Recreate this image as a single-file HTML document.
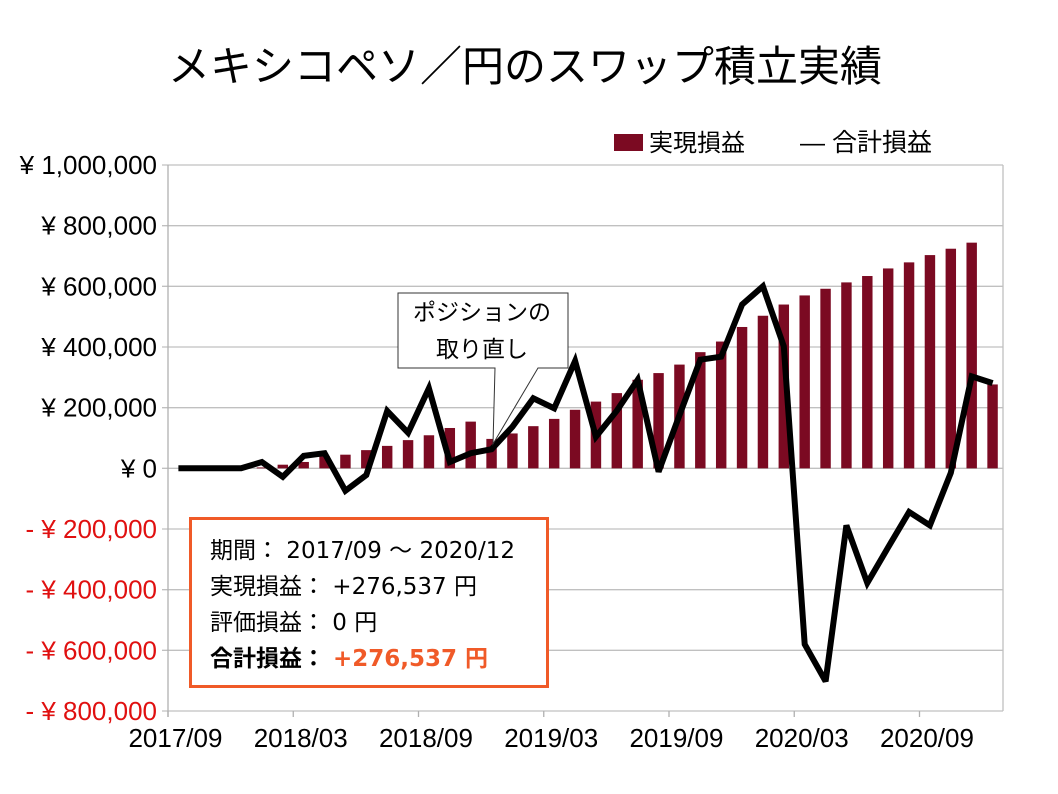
<!DOCTYPE html>
<html><head><meta charset="utf-8"><style>
html,body{margin:0;padding:0;background:#fff;}
svg{display:block;font-family:"Liberation Sans","Noto Sans CJK JP",sans-serif;}
.box{font-family:"DejaVu Sans","Noto Sans CJK JP",sans-serif;}
</style></head><body>
<svg id="chart" width="1058" height="794" viewBox="0 0 1058 794" xmlns="http://www.w3.org/2000/svg">
<text x="525" y="81" font-size="42" text-anchor="middle" fill="#000">メキシコペソ／円のスワップ積立実績</text>
<g>
  <rect x="614" y="134" width="29" height="17" fill="#7b0a22"/>
  <text x="649" y="151" font-size="24">実現損益</text>
  <text x="800" y="151" font-size="25">― 合計損益</text>
</g>
<g id="grid"></g>
<g id="bars"></g>
<g id="axes"></g>
<polyline id="line" fill="none" stroke="#000" stroke-width="6" stroke-linejoin="miter" stroke-miterlimit="3"/>
<g>
  <path d="M398,293 H568 V368 H538 L493,444 L495,368 H398 Z" fill="#fff" stroke="#333" stroke-width="1"/>
  <text x="482" y="320" font-size="23" text-anchor="middle">ポジションの</text>
  <text x="482" y="357" font-size="23" text-anchor="middle">取り直し</text>
</g>
<g class="box">
  <rect x="190.5" y="518.5" width="357" height="168" fill="#fff" stroke="#f05a28" stroke-width="3"/>
  <text x="210" y="558" font-size="23">期間：  2017/09 ～ 2020/12</text>
  <text x="210" y="594" font-size="23">実現損益：  +276,537 円</text>
  <text x="210" y="630" font-size="23">評価損益：  0 円</text>
  <text x="210" y="666" font-size="23" font-weight="bold">合計損益：  <tspan fill="#f05a28">+276,537 円</tspan></text>
</g>
</svg>
<script>
const months = ["2017/09","2017/10","2017/11","2017/12","2018/01","2018/02","2018/03","2018/04","2018/05","2018/06","2018/07","2018/08","2018/09","2018/10","2018/11","2018/12","2019/01","2019/02","2019/03","2019/04","2019/05","2019/06","2019/07","2019/08","2019/09","2019/10","2019/11","2019/12","2020/01","2020/02","2020/03","2020/04","2020/05","2020/06","2020/07","2020/08","2020/09","2020/10","2020/11","2020/12"];
const realized = [0,0,0,0,3000,12000,21000,40000,45000,60000,74000,93000,109000,133000,154000,97000,115000,139000,163000,193000,220000,248000,292000,314000,342000,383000,418000,466000,503000,540000,570000,592000,613000,634000,659000,679000,703000,724000,744000,276537];
const total = [0,0,0,0,21000,-28000,41000,50000,-74000,-22000,189000,117000,264000,21000,50000,63000,137000,231000,198000,354000,104000,190000,292000,-11000,175000,358000,368000,540000,600000,402000,-580000,-702000,-188000,-378000,-260000,-144000,-188000,-15000,303000,281000];
const yTicks = [1000000,800000,600000,400000,200000,0,-200000,-400000,-600000,-800000];
const xLabelIdx = [0,6,12,18,24,30,36];

const L=168, R=1003, yMax=1000000, yMin=-800000, T=165, B=711;
const NS="http://www.w3.org/2000/svg";
const w=(R-L)/months.length;
function xC(i){return L+(i+0.5)*w;}
function y(v){return T+(yMax-v)/(yMax-yMin)*(B-T);}
function mk(tag,attrs,parent){const e=document.createElementNS(NS,tag);for(const k in attrs)e.setAttribute(k,attrs[k]);parent.appendChild(e);return e;}
function fmt(v){return "¥ "+Math.abs(v).toLocaleString("en-US");}
const grid=document.getElementById("grid"), axes=document.getElementById("axes"), bars=document.getElementById("bars");
yTicks.forEach(v=>{
  const gl=mk("line",{x1:L-6,x2:R,y1:y(v),y2:y(v),stroke:"#c0c0c0","stroke-width":1.3},grid);
  
  
  const t=mk("text",{x:157,y:y(v)+9,"font-size":26,"text-anchor":"end",fill:v<0?"#e01010":"#000"},axes);
  
  
  t.textContent=(v<0?"- ":"")+fmt(v);
});
const ax=mk("line",{x1:L,x2:L,y1:T,y2:B+6,stroke:"#b0b0b0","stroke-width":1.3},axes);


const rx=mk("line",{x1:R,x2:R,y1:T,y2:B,stroke:"#c0c0c0","stroke-width":1.3},axes);


xLabelIdx.forEach(i=>{
  const tk=mk("line",{x1:L+i*w,x2:L+i*w,y1:B,y2:B+6,stroke:"#b0b0b0","stroke-width":1.3},axes);
  
  
  const t=mk("text",{x:xC(i)-3,y:B+36,"font-size":26,"text-anchor":"middle"},axes);
  
  
  t.textContent=months[i];
});
realized.forEach((v,i)=>{
  const bw=w*0.5;
  const r=mk("rect",{x:xC(i)-bw/2,y:Math.min(y(v),y(0)),width:bw,height:Math.abs(y(v)-y(0)),fill:"#7b0a22"},bars);
  
  
});
document.getElementById("line").setAttribute("points",total.map((v,i)=>xC(i).toFixed(1)+","+y(v).toFixed(1)).join(" "));
</script>
</body></html>
